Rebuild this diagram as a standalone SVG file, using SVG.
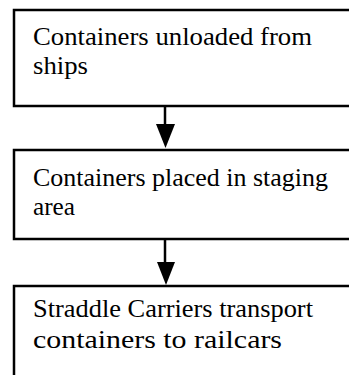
<svg xmlns="http://www.w3.org/2000/svg" width="349" height="375" viewBox="0 0 349 375">
<style>
.box{fill:#fff;stroke:#000;stroke-width:2.5}
.t{font-family:"Liberation Serif",serif;font-size:26px;fill:#000}
.c{stroke:#000;stroke-width:2.5;fill:none}
.ah{fill:#000}
</style>
<rect width="349" height="375" fill="#fff"/>
<g id="node1">
<rect class="box" x="14" y="10" width="345" height="96"/>
<text class="t" x="33" y="45" textLength="279" lengthAdjust="spacingAndGlyphs">Containers unloaded from</text>
<text class="t" x="33" y="74" textLength="55" lengthAdjust="spacingAndGlyphs">ships</text>
</g>
<g id="node2">
<rect class="box" x="14" y="150" width="345" height="89"/>
<text class="t" x="33" y="186" textLength="295" lengthAdjust="spacingAndGlyphs">Containers placed in staging</text>
<text class="t" x="33" y="215" textLength="42" lengthAdjust="spacingAndGlyphs">area</text>
</g>
<g id="node3">
<rect class="box" x="14" y="286" width="345" height="100"/>
<text class="t" x="33" y="317" textLength="280" lengthAdjust="spacingAndGlyphs">Straddle Carriers transport</text>
<text class="t" x="33" y="348" textLength="249" lengthAdjust="spacingAndGlyphs">containers to railcars</text>
</g>
<g id="connectors">
<line class="c" x1="165" y1="106" x2="165" y2="126"/>
<polygon class="ah" points="156,124 175,124 165.5,148"/>
<line class="c" x1="165" y1="239" x2="165" y2="264"/>
<polygon class="ah" points="157,262 175,262 166,285"/>
</g>
</svg>
